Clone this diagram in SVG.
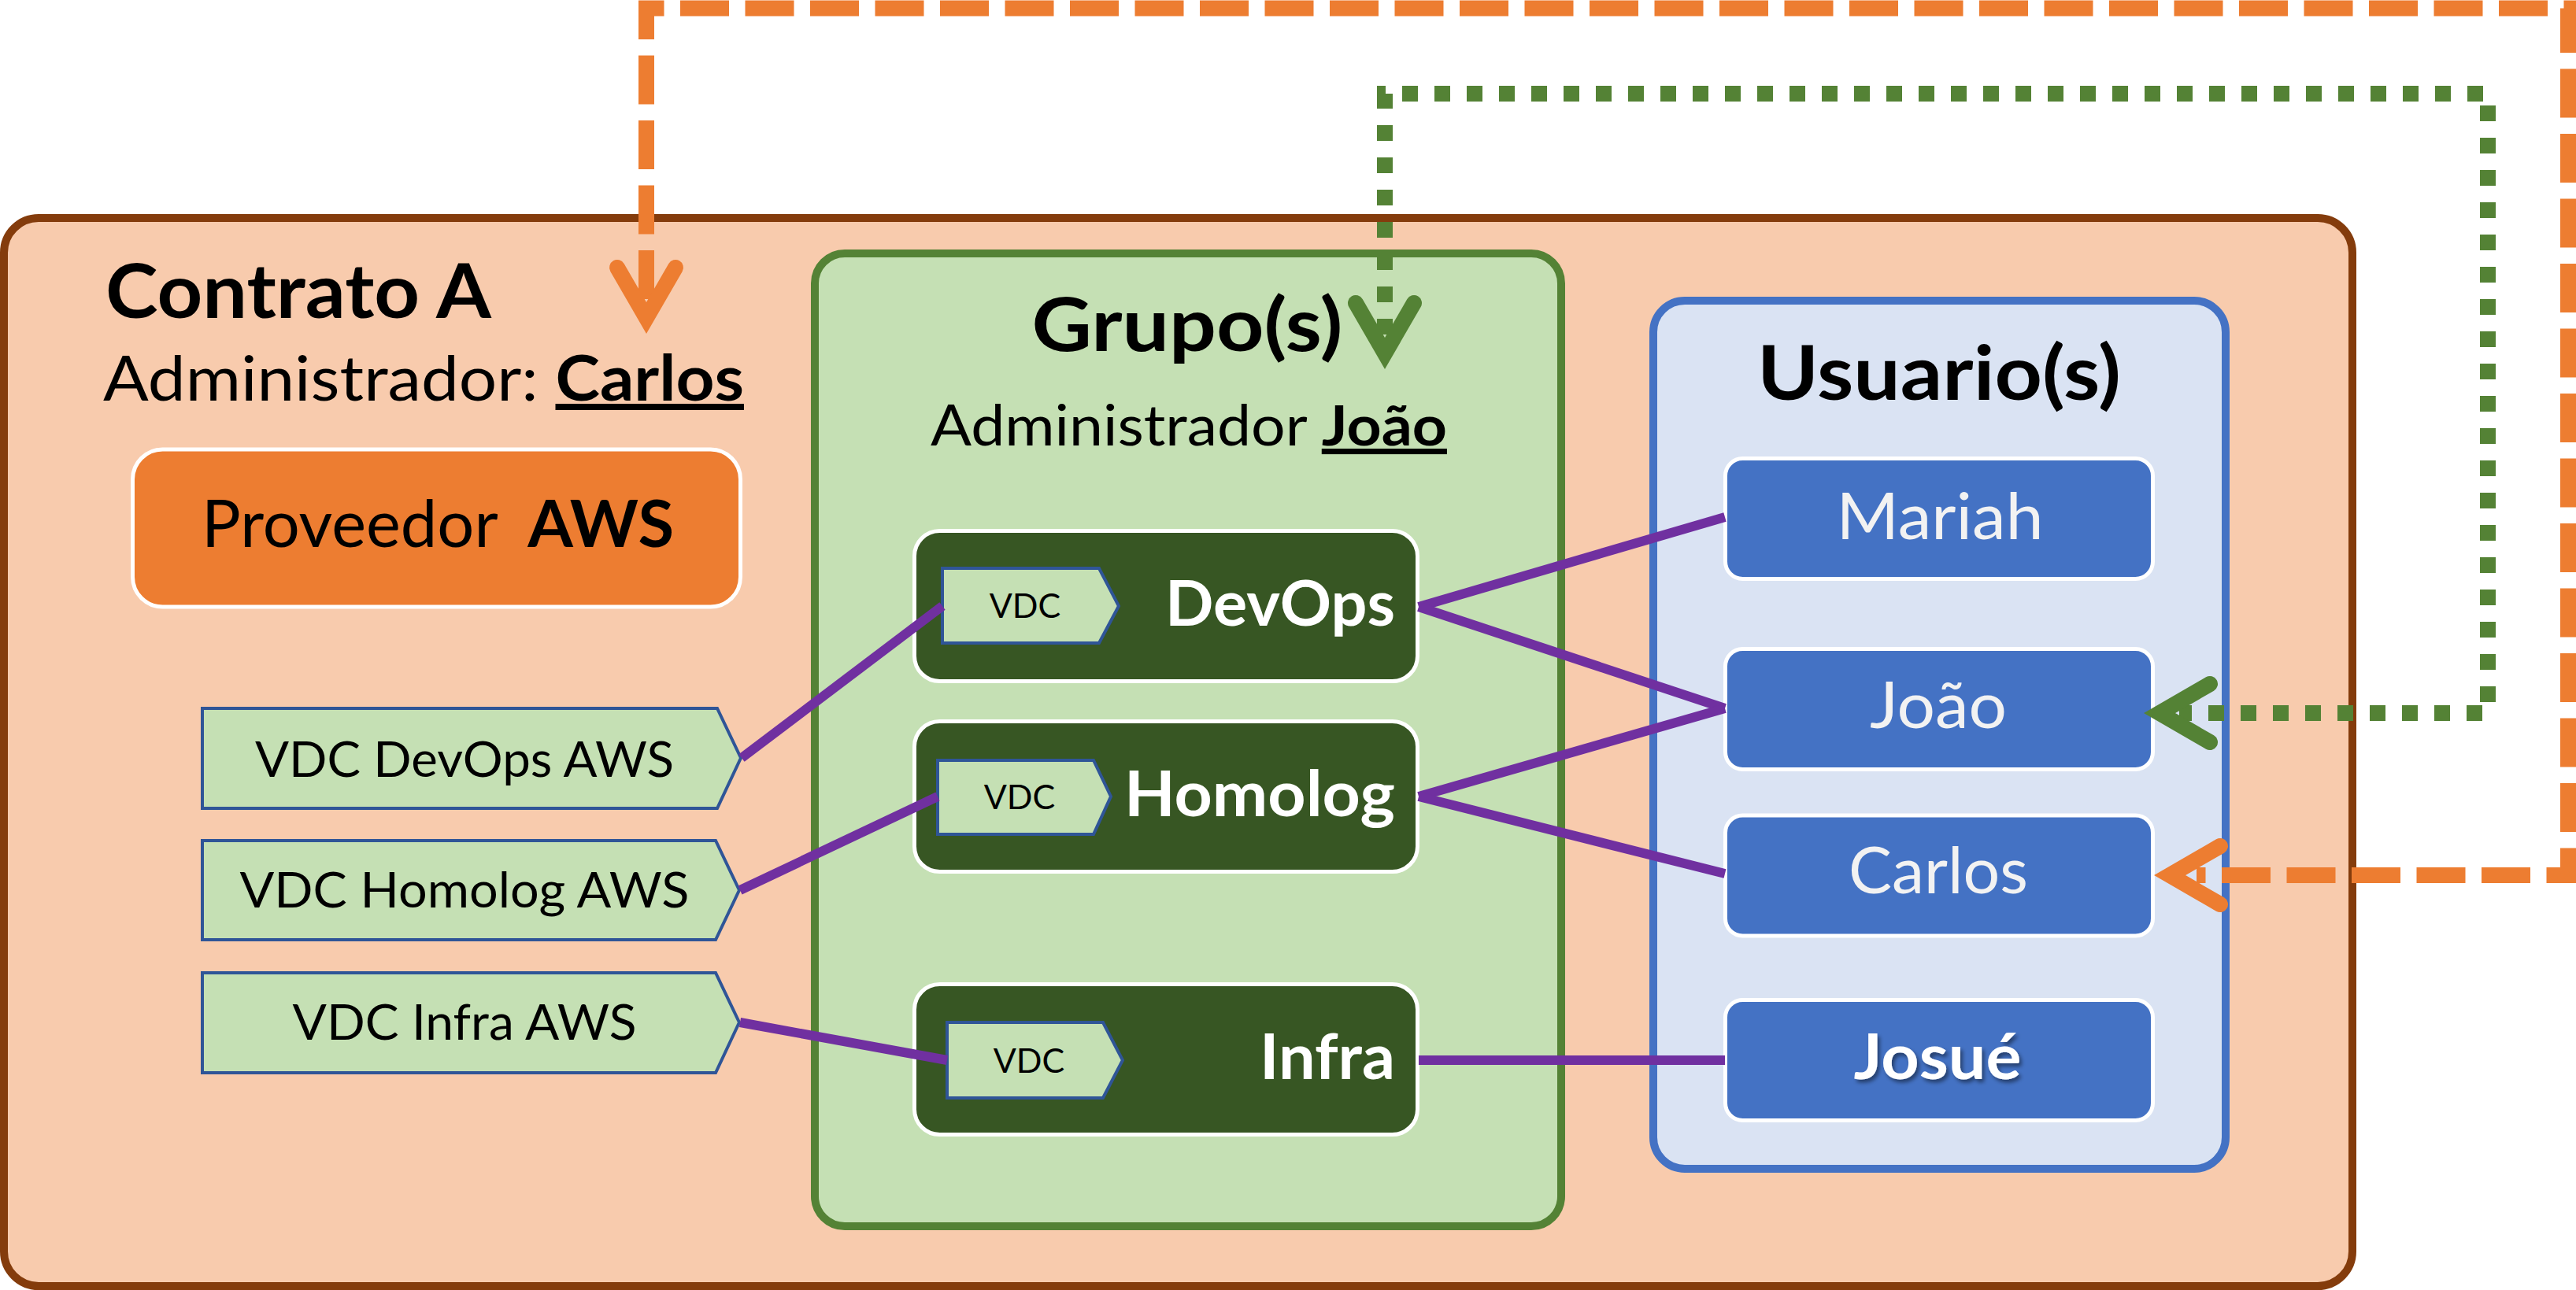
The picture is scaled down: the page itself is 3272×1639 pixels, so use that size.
<svg xmlns="http://www.w3.org/2000/svg" width="3272" height="1639" viewBox="0 0 3272 1639">
<defs>
<style>
text { font-family: Lato, "Noto Sans", sans-serif; fill: #000000; }
.bold { font-weight: 700; }
.mid { text-anchor: middle; }
.end { text-anchor: end; }
.contract { fill: #F8CBAD; stroke: #843C0C; stroke-width: 10; }
.provider { fill: #ED7D31; stroke: #FFFFFF; stroke-width: 5; }
.groups { fill: #C5E0B4; stroke: #548235; stroke-width: 10; }
.users { fill: #DAE3F3; stroke: #4472C4; stroke-width: 10; }
.gnode { fill: #375623; stroke: #FFFFFF; stroke-width: 5; }
.unode { fill: #4472C4; stroke: #FFFFFF; stroke-width: 5; }
.tag { fill: #C5E0B4; stroke: #2F5597; stroke-width: 4; stroke-linejoin: miter; }
.gname { fill: #FFFFFF; font-weight: 700; font-size: 80px; text-anchor: end; }
.uname { fill: #F2F2F2; font-size: 81px; text-anchor: middle; }
.vdc { font-size: 43px; text-anchor: middle; }
.vdcaws { font-size: 61px; text-anchor: middle; }
.link { stroke: #7030A0; stroke-width: 12; fill: none; }
.orange { stroke: #ED7D31; stroke-width: 20; fill: none; stroke-dasharray: 62 20.5; }
.green { stroke: #548235; stroke-width: 20; fill: none; stroke-dasharray: 20 21; }
.chev { fill: none; stroke-width: 20; stroke-linecap: round; stroke-linejoin: miter; }
</style>
<polyline id="chevron" points="-37,-84 0,-20 37,-84"/>
<filter id="shadow" x="-10%" y="-10%" width="130%" height="140%">
<feDropShadow dx="3" dy="4" stdDeviation="2.5" flood-color="#000000" flood-opacity="0.45"/>
</filter>
</defs>

<g id="contrato-a">
<rect class="contract" x="5" y="277" width="2983" height="1357" rx="44"/>
<text x="134" y="404" font-size="95" class="bold" textLength="490" lengthAdjust="spacingAndGlyphs">Contrato A</text>
<text x="131" y="509" font-size="80" textLength="814" lengthAdjust="spacingAndGlyphs">Administrador: <tspan class="bold" text-decoration="underline">Carlos</tspan></text>
</g>

<g id="proveedor-aws">
<rect class="provider" x="168.5" y="571" width="772" height="200" rx="38"/>
<text class="mid" x="556" y="695" font-size="83">Proveedor <tspan class="bold" dx="18">AWS</tspan></text>
</g>

<g id="vdc-devops-aws">
<polygon class="tag" points="257,900 911,900 941,963 911,1027 257,1027"/>
<text class="vdcaws" x="590" y="987" textLength="532" lengthAdjust="spacingAndGlyphs">VDC DevOps AWS</text>
</g>
<g id="vdc-homolog-aws">
<polygon class="tag" points="257,1068 909,1068 939,1131 909,1194 257,1194"/>
<text class="vdcaws" x="590" y="1153" textLength="571" lengthAdjust="spacingAndGlyphs">VDC Homolog AWS</text>
</g>
<g id="vdc-infra-aws">
<polygon class="tag" points="257,1236 909,1236 939,1299 909,1363 257,1363"/>
<text class="vdcaws" x="590" y="1321" textLength="437" lengthAdjust="spacingAndGlyphs">VDC Infra AWS</text>
</g>

<g id="grupos">
<rect class="groups" x="1035" y="322" width="948" height="1236" rx="38"/>
<text class="mid bold" x="1508" y="446" font-size="94" textLength="395" lengthAdjust="spacingAndGlyphs">Grupo(s)</text>
<text class="mid" x="1510" y="566" font-size="71" textLength="656" lengthAdjust="spacingAndGlyphs">Administrador <tspan class="bold" text-decoration="underline">João</tspan></text>
</g>

<g id="grupo-devops">
<rect class="gnode" x="1161.5" y="674.5" width="639" height="191" rx="32"/>
<polygon class="tag" points="1197,722 1396,722 1421,770 1396,817 1197,817"/>
<text class="vdc" x="1302" y="785">VDC</text>
<text class="gname" x="1772" y="795" textLength="292" lengthAdjust="spacingAndGlyphs">DevOps</text>
</g>
<g id="grupo-homolog">
<rect class="gnode" x="1161.5" y="916.5" width="639" height="191" rx="32"/>
<polygon class="tag" points="1191,966 1389,966 1411,1012 1389,1060 1191,1060"/>
<text class="vdc" x="1295" y="1028">VDC</text>
<text class="gname" x="1772" y="1037" textLength="344" lengthAdjust="spacingAndGlyphs">Homolog</text>
</g>
<g id="grupo-infra">
<rect class="gnode" x="1161.5" y="1250.5" width="639" height="191" rx="32"/>
<polygon class="tag" points="1203,1299 1401,1299 1426,1347 1401,1395 1203,1395"/>
<text class="vdc" x="1307" y="1363">VDC</text>
<text class="gname" x="1772" y="1371" textLength="172" lengthAdjust="spacingAndGlyphs">Infra</text>
</g>

<g id="usuarios">
<rect class="users" x="2100" y="382" width="727" height="1103" rx="40"/>
<text class="mid bold" x="2463" y="508" font-size="95" textLength="462" lengthAdjust="spacingAndGlyphs">Usuario(s)</text>
</g>

<g id="user-mariah">
<rect class="unode" x="2191.5" y="582.5" width="543" height="153" rx="22"/>
<text class="uname" x="2464" y="685" textLength="263" lengthAdjust="spacingAndGlyphs">Mariah</text>
</g>
<g id="user-joao">
<rect class="unode" x="2191.5" y="824.5" width="543" height="153" rx="22"/>
<text class="uname" x="2462" y="925" textLength="174" lengthAdjust="spacingAndGlyphs">João</text>
</g>
<g id="user-carlos">
<rect class="unode" x="2191.5" y="1036" width="543" height="153" rx="22"/>
<text class="uname" x="2462" y="1135" textLength="228" lengthAdjust="spacingAndGlyphs">Carlos</text>
</g>
<g id="user-josue">
<rect class="unode" x="2191.5" y="1270.5" width="543" height="153" rx="22"/>
<text class="uname bold" x="2461" y="1371" style="fill:#FFFFFF" filter="url(#shadow)" textLength="213" lengthAdjust="spacingAndGlyphs">Josué</text>
</g>

<g id="connectors">
<line class="link" x1="942" y1="963" x2="1197" y2="770"/>
<line class="link" x1="940" y1="1131" x2="1191" y2="1012"/>
<line class="link" x1="940" y1="1299" x2="1203" y2="1347"/>
<line class="link" x1="1802" y1="771" x2="2191" y2="657"/>
<line class="link" x1="1802" y1="771" x2="2191" y2="900"/>
<line class="link" x1="1802" y1="1012" x2="2191" y2="900"/>
<line class="link" x1="1802" y1="1012" x2="2191" y2="1110"/>
<line class="link" x1="1802" y1="1347" x2="2191" y2="1347"/>
<path class="orange" d="M821 380 V10.5 H3262 V1112 H2790"/>
<path class="green" d="M1759 425 V119 H3160 V906 H2768"/>
<use href="#chevron" class="chev" stroke="#ED7D31" transform="translate(821,424)"/>
<use href="#chevron" class="chev" stroke="#548235" transform="translate(1759,469)"/>
<use href="#chevron" class="chev" stroke="#548235" transform="translate(2723,906) rotate(90)"/>
<use href="#chevron" class="chev" stroke="#ED7D31" transform="translate(2736,1112) rotate(90)"/>
</g>
</svg>
